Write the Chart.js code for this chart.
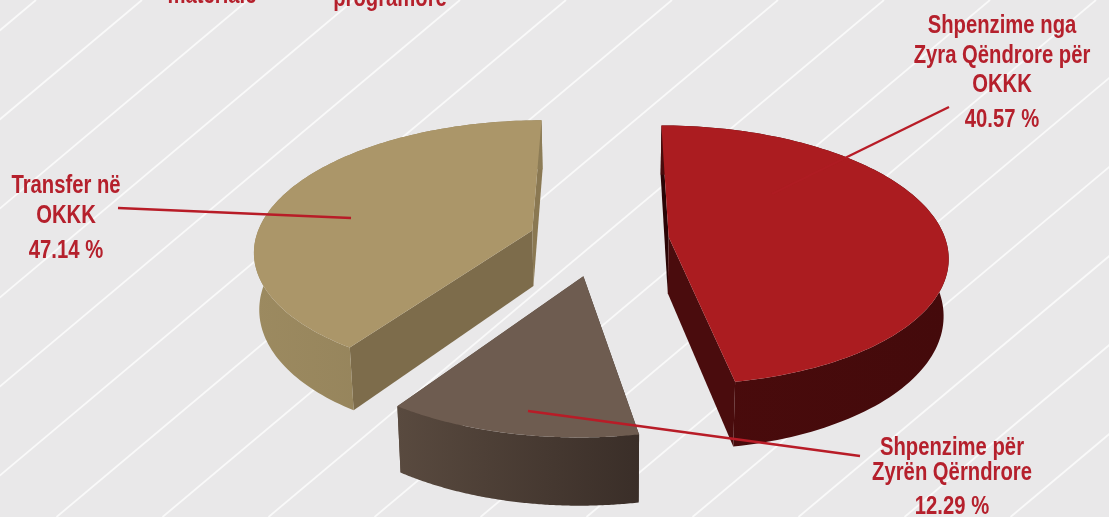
<!DOCTYPE html>
<html>
<head>
<meta charset="utf-8">
<script src="https://cdn.jsdelivr.net/npm/chart.js@4"></script>
<style>
html,body{margin:0;padding:0;background:#e9e8e9;overflow:hidden}
#wrap{width:1109px;height:517px;position:relative}
</style>
</head>
<body>
<div id="wrap"><canvas id="c" width="1109" height="517"></canvas></div>
<script>
// the reference's printed labels (below) have the red and tan percentages the other way round.
const categories = ["Shpenzime nga Zyra Qëndrore për OKKK", "Shpenzime për Zyrën Qërndrore", "Transfer në OKKK"];
const sliceValues = [47.14, 12.29, 40.57];
const printedPercents = ["40.57 %", "12.29 %", "47.14 %"];
const sliceColors = ["#ab1c20", "#6e5c50", "#ab9669"];
const sliceOffsets = [47, 67, 63];

const labelLines = [
  ["Shpenzime nga", "Zyra Qëndrore për", "OKKK"],
  ["Shpenzime për", "Zyrën Qërndrore"],
  ["Transfer në", "OKKK"]
];
const clippedHeadings = ["materiale", "programore"];

const FONT = '"Liberation Sans",sans-serif';
const RED_TEXT = "#b5202c";
const cam = {vx:609, hy:-683, F:2000, H:6665, z0:7.24, thick:406, bottomScale:0.985};
// shade ramps per slice: outer wall left/right, radial wall at start/end, small placement nudges
const walls = [
  {a:"#4a0b0c", b:"#440a0b", s:"#2a0405", e:"#4a0c0d", nu:0.008, nv:0.015},
  {a:"#594a3f", b:"#3a2e28", s:"#3a2e28", e:"#5a4a3f", nu:-0.028, nv:0},
  {a:"#9c8a60", b:"#8d7c56", s:"#7d6c4b", e:"#8a7852", nu:-0.012, nv:0.025}
];

function project(u,v,bottom){
  const z = cam.z0 - v;
  const k = bottom ? cam.bottomScale : 1;
  return {
    x: cam.vx + k*cam.F*u/z,
    y: cam.hy + (cam.H + (bottom?cam.thick:0))/z
  };
}
function poly(ctx,pts,fill){
  ctx.beginPath();
  pts.forEach((p,i)=> i?ctx.lineTo(p.x,p.y):ctx.moveTo(p.x,p.y));
  ctx.closePath();
  ctx.fillStyle=fill; ctx.fill();
}
function drawSlice(ctx,arc,i){
  const o = arc.options;
  const R = arc.outerRadius;
  const mid = (arc.startAngle+arc.endAngle)/2;
  const off = (o.offset||0)/R;
  const w = walls[i];
  const cu = Math.cos(mid)*off + w.nu, cv = Math.sin(mid)*off + w.nv;
  const n = 120, rim=[];
  for(let k=0;k<=n;k++){
    const a = arc.startAngle+(arc.endAngle-arc.startAngle)*k/n;
    rim.push([cu+Math.cos(a),cv+Math.sin(a)]);
  }
  const T=p=>project(p[0],p[1],false), B=p=>project(p[0],p[1],true);
  const topRim=rim.map(T), botRim=rim.map(B);
  const c=[cu,cv];
  poly(ctx,[T(c),T(rim[0]),B(rim[0]),B(c)],w.s);
  poly(ctx,[T(c),T(rim[n]),B(rim[n]),B(c)],w.e);
  const xs=topRim.map(p=>p.x);
  const g=ctx.createLinearGradient(Math.min(...xs),0,Math.max(...xs),0);
  g.addColorStop(0,w.a); g.addColorStop(1,w.b);
  poly(ctx,topRim.concat(botRim.slice().reverse()),g);
  poly(ctx,[T(c)].concat(topRim),o.backgroundColor);
}
function textBlock(ctx,lines,cx,ys,size){
  ctx.save();
  ctx.fillStyle=RED_TEXT;
  ctx.textAlign="center"; ctx.textBaseline="alphabetic";
  ctx.font='bold '+size+'px '+FONT;
  ctx.translate(cx,0); ctx.scale(0.81,1);
  lines.forEach((t,i)=>ctx.fillText(t,0,ys[i]));
  ctx.restore();
}
function leader(ctx,x1,y1,x2,y2,alpha){
  ctx.save();
  ctx.strokeStyle="#b81c27"; ctx.lineWidth=2.4; ctx.globalAlpha=alpha||1;
  ctx.beginPath(); ctx.moveTo(x1,y1); ctx.lineTo(x2,y2); ctx.stroke();
  ctx.restore();
}
const pie3d = {
  id:"pie3d",
  beforeDraw(chart){
    const ctx=chart.ctx, W=chart.width, H=chart.height;
    ctx.save();
    ctx.fillStyle="#e9e8e9"; ctx.fillRect(0,0,W,H);
    ctx.strokeStyle="#f9f9f9"; ctx.lineWidth=1.8;
    for(let k=0;k<17;k++){
      const x0=36+106*k;
      ctx.beginPath(); ctx.moveTo(x0,0); ctx.lineTo(x0-H/0.84,H); ctx.stroke();
    }
    ctx.restore();
  },
  beforeDatasetsDraw(chart){
    const ctx=chart.ctx;
    const arcs=chart.getDatasetMeta(0).data;
    ctx.save();
    [2,1,0].forEach(i=>drawSlice(ctx,arcs[i],i));
    leader(ctx,118,208,351,218);
    leader(ctx,949,107,845,158);
    leader(ctx,845,158,772,194,0.25);
    leader(ctx,528,411,860,456);
    textBlock(ctx,labelLines[0].concat(printedPercents[0]),1002,[33,63,92,127],25);
    textBlock(ctx,labelLines[1].concat(printedPercents[1]),952,[455,480,514],25);
    textBlock(ctx,labelLines[2].concat(printedPercents[2]),66,[193,223,258],25);
    textBlock(ctx,[clippedHeadings[0]],212,[3],25);
    textBlock(ctx,[clippedHeadings[1]],390,[6],25);
    ctx.restore();
    return false;
  }
};
new Chart(document.getElementById("c"),{
  type:"pie",
  data:{labels:categories,datasets:[{data:sliceValues,backgroundColor:sliceColors,offset:sliceOffsets,borderWidth:0}]},
  options:{
    responsive:false,animation:false,rotation:0,
    layout:{padding:0},
    plugins:{legend:{display:false},tooltip:{enabled:false}}
  },
  plugins:[pie3d]
});
</script>
</body>
</html>
